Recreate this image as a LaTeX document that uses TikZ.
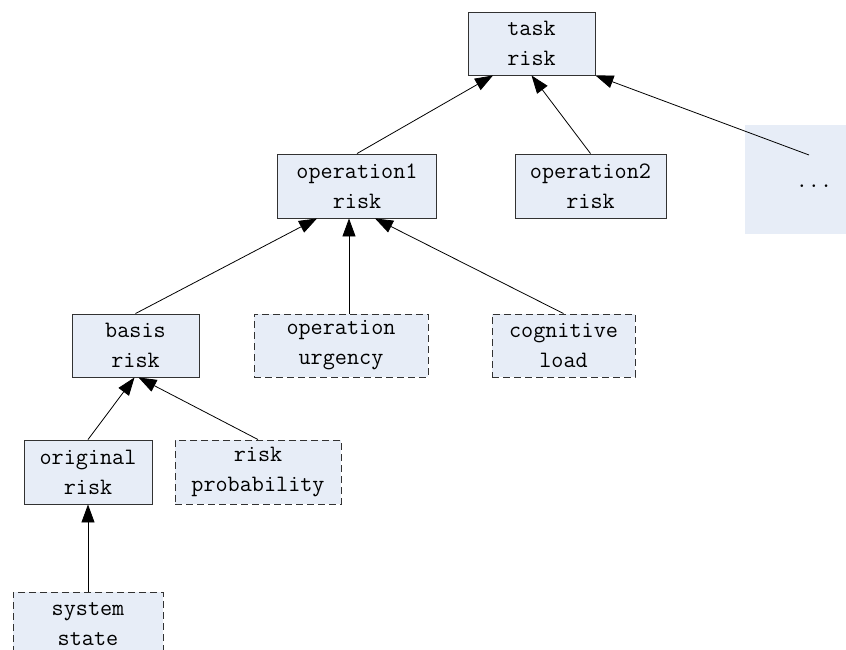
\documentclass[tikz,border=0pt]{standalone}
\usetikzlibrary{arrows.meta,calc}
\definecolor{boxfill}{RGB}{231,237,247}
\definecolor{boxline}{RGB}{50,50,50}
\begin{document}
\begin{tikzpicture}[x=1pt,y=-1pt,
  every node/.style={font=\fontsize{23.5}{30}\selectfont\ttfamily, align=center, inner sep=0pt},
  solidbox/.style={draw=boxline, fill=boxfill, line width=0.9pt},
  dashbox/.style={draw=boxline, fill=boxfill, line width=0.9pt, dash pattern=on 7pt off 4pt},
  conn/.style={draw=black, line width=0.8pt, -{Triangle[length=18pt,width=13pt]}}
]
\useasboundingbox (0,0) rectangle (846,650);
\clip (0,0) rectangle (846,650);
\node[solidbox, minimum width=127pt, minimum height=63pt] (task) at (531.5,43.5) {task\\risk};
\node[solidbox, minimum width=159pt, minimum height=64pt] (op1) at (357,186) {operation1\\risk};
\node[solidbox, minimum width=151pt, minimum height=64pt] (op2) at (590.5,186) {operation2\\risk};
\node[fill=boxfill, minimum width=138pt, minimum height=109pt] (dots) at (814,179.5) {};
\node (dotstext) at (814,186) {...};
\coordinate (dotsend) at (809,155);
\node[solidbox, minimum width=127pt, minimum height=63pt] (basis) at (135.5,345.5) {basis\\risk};
\node[dashbox, minimum width=174pt, minimum height=63pt] (urg) at (341,345.5) {operation\\urgency};
\node[dashbox, minimum width=143pt, minimum height=63pt] (cog) at (563.5,345.5) {cognitive\\load};
\node[solidbox, minimum width=128pt, minimum height=64pt] (orig) at (88,472) {original\\risk};
\node[dashbox, minimum width=166pt, minimum height=64pt] (prob) at (258,472) {risk\\probability};
\node[dashbox, minimum width=150pt, minimum height=64pt] (sys) at (88,624) {system\\state};

\draw[conn] (op1.north) -- ([xshift=-38.5pt]task.south);
\draw[conn] (op2.north) -- (task.south);
\draw[conn] (dotsend) -- (task.south east);
\draw[conn] (basis.north) -- ([xshift=-40pt]op1.south);
\draw[conn] ([xshift=8pt]urg.north) -- ([xshift=8pt]urg.north |- op1.south);
\draw[conn] (cog.north) -- ([xshift=18pt]op1.south);
\draw[conn] (orig.north) -- ([xshift=-1pt]basis.south);
\draw[conn] (prob.north) -- ([xshift=3pt]basis.south);
\draw[conn] (sys.north) -- (orig.south);
\end{tikzpicture}
\end{document}
